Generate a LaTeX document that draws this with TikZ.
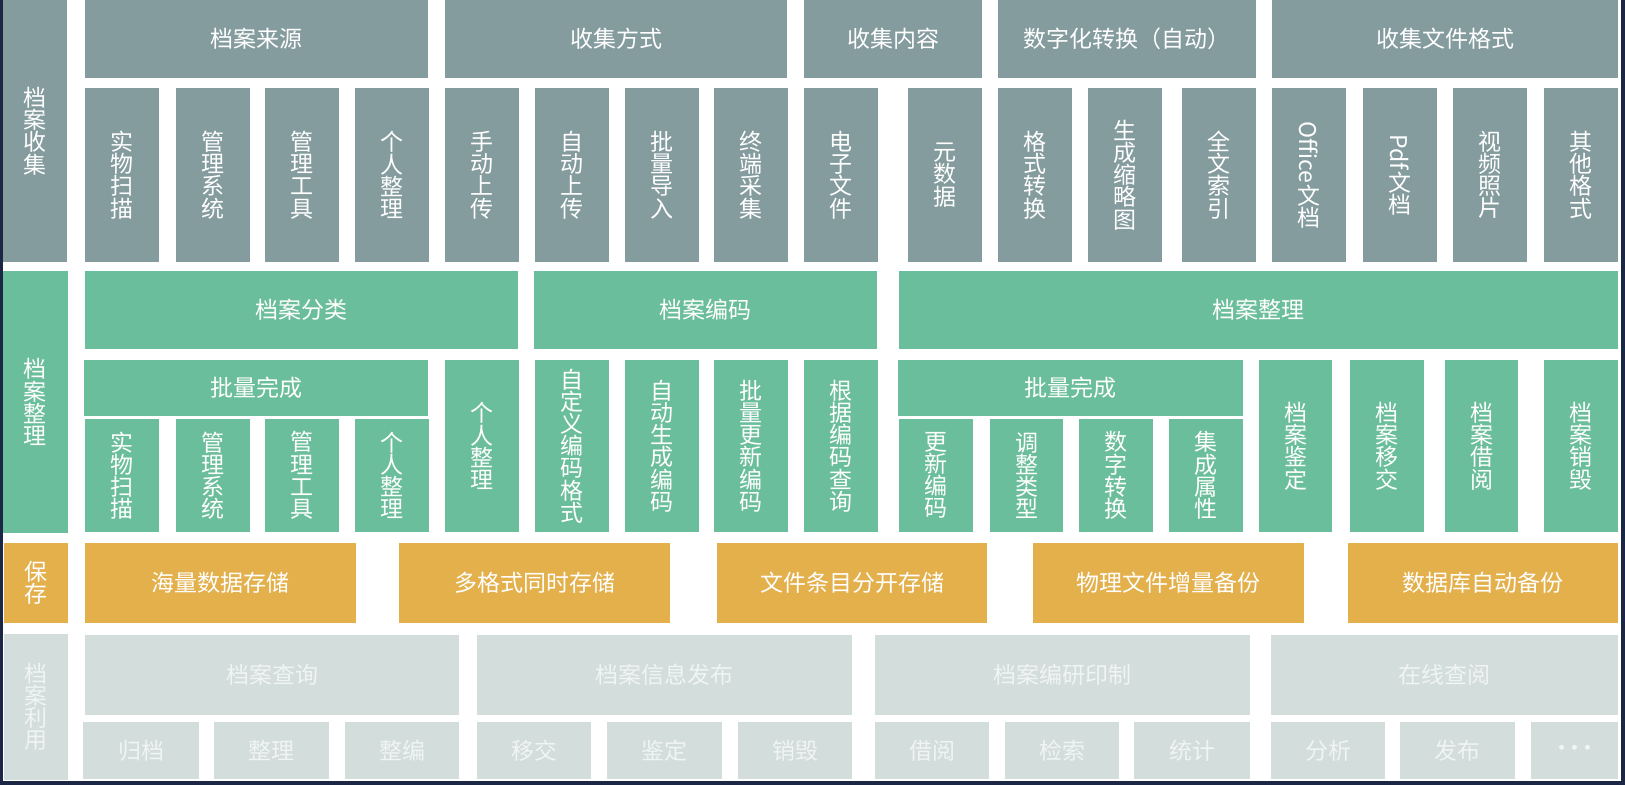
\documentclass[tikz,border=0pt]{standalone}
\usepackage{fontspec}
\setmainfont{Noto Sans CJK SC}
\usepackage{graphicx}
\usepackage{tikz}
\definecolor{cgray}{HTML}{859C9F}
\definecolor{cgreen}{HTML}{6BBE9B}
\definecolor{corange}{HTML}{E3B04C}
\definecolor{clight}{HTML}{D2DDDC}
\definecolor{ctext}{HTML}{F0F4F4}
\definecolor{cframe}{HTML}{1B2745}

\begin{document}
\begin{tikzpicture}[x=.5pt,y=-.5pt,
 box/.style={inner sep=0pt,outer sep=0pt,anchor=north west,align=center,text=white,font=\fontsize{11.5}{11.1}\selectfont},
 sz/.style 2 args={minimum width=#1*.5pt,minimum height=#2*.5pt},
 cbox/.style={box,fill=cgray},
 obox/.style={box,fill=cgreen},
 sbox/.style={box,fill=corange},
 ubox/.style={box,fill=clight,text=ctext}]
\useasboundingbox (0,0) rectangle (1625,785);
\fill[cframe] (0,0) rectangle (1625,785);
\fill[white] (3,0) rectangle (1621,781);

% 档案收集
\node[cbox,sz={64}{262}] (col) at (3,0) {档\\案\\收\\集};
\node[cbox,sz={343}{78}] (src) at (85,0) {档案来源};
\node[cbox,sz={342}{78}] (way) at (445,0) {收集方式};
\node[cbox,sz={178}{78}] (cnt) at (804,0) {收集内容};
\node[cbox,sz={258}{78}] (dig) at (998,0) {数字化转换（自动）};
\node[cbox,sz={346}{78}] (fmt) at (1272,0) {收集文件格式};
\node[cbox,sz={74}{174}] (src1) at (85,88) {实\\物\\扫\\描};
\node[cbox,sz={74}{174}] (src2) at (176,88) {管\\理\\系\\统};
\node[cbox,sz={74}{174}] (src3) at (265,88) {管\\理\\工\\具};
\node[cbox,sz={74}{174}] (src4) at (355,88) {个\\人\\整\\理};
\node[cbox,sz={74}{174}] (way1) at (445,88) {手\\动\\上\\传};
\node[cbox,sz={74}{174}] (way2) at (535,88) {自\\动\\上\\传};
\node[cbox,sz={74}{174}] (way3) at (625,88) {批\\量\\导\\入};
\node[cbox,sz={74}{174}] (way4) at (714,88) {终\\端\\采\\集};
\node[cbox,sz={74}{174}] (cnt1) at (804,88) {电\\子\\文\\件};
\node[cbox,sz={74}{174}] (cnt2) at (908,88) {元\\数\\据};
\node[cbox,sz={74}{174}] (dig1) at (998,88) {格\\式\\转\\换};
\node[cbox,sz={74}{174}] (dig2) at (1088,88) {生\\成\\缩\\略\\图};
\node[cbox,sz={74}{174}] (dig3) at (1182,88) {全\\文\\索\\引};
\node[cbox,sz={74}{174}] (fmt1) at (1272,88) {\rotatebox[origin=c]{-90}{Office}\\文\\档};
\node[cbox,sz={74}{174}] (fmt2) at (1363,88) {\rotatebox[origin=c]{-90}{Pdf}\\文\\档};
\node[cbox,sz={74}{174}] (fmt3) at (1453,88) {视\\频\\照\\片};
\node[cbox,sz={74}{174}] (fmt4) at (1544,88) {其\\他\\格\\式};

% 档案整理
\node[obox,sz={65}{262}] (org) at (3,271) {档\\案\\整\\理};
\node[obox,sz={433}{78}] (cls) at (85,271) {档案分类};
\node[obox,sz={343}{78}] (enc) at (534,271) {档案编码};
\node[obox,sz={719}{78}] (arr) at (899,271) {档案整理};
\node[obox,sz={344}{56}] (clsb) at (84,360) {批量完成};
\node[obox,sz={74}{113}] (cls1) at (85,419) {实\\物\\扫\\描};
\node[obox,sz={74}{113}] (cls2) at (176,419) {管\\理\\系\\统};
\node[obox,sz={74}{113}] (cls3) at (265,419) {管\\理\\工\\具};
\node[obox,sz={74}{113}] (cls4) at (355,419) {个\\人\\整\\理};
\node[obox,sz={74}{172}] (cls5) at (445,360) {个\\人\\整\\理};
\node[obox,sz={74}{172}] (enc1) at (535,360) {自\\定\\义\\编\\码\\格\\式};
\node[obox,sz={74}{172}] (enc2) at (625,360) {自\\动\\生\\成\\编\\码};
\node[obox,sz={74}{172}] (enc3) at (714,360) {批\\量\\更\\新\\编\\码};
\node[obox,sz={74}{172}] (enc4) at (804,360) {根\\据\\编\\码\\查\\询};
\node[obox,sz={345}{56}] (arrb) at (898,360) {批量完成};
\node[obox,sz={74}{113}] (arr1) at (899,419) {更\\新\\编\\码};
\node[obox,sz={73}{113}] (arr2) at (990,419) {调\\整\\类\\型};
\node[obox,sz={74}{113}] (arr3) at (1079,419) {数\\字\\转\\换};
\node[obox,sz={74}{113}] (arr4) at (1169,419) {集\\成\\属\\性};
\node[obox,sz={73}{172}] (arr5) at (1259,360) {档\\案\\鉴\\定};
\node[obox,sz={74}{172}] (arr6) at (1350,360) {档\\案\\移\\交};
\node[obox,sz={73}{172}] (arr7) at (1445,360) {档\\案\\借\\阅};
\node[obox,sz={74}{172}] (arr8) at (1544,360) {档\\案\\销\\毁};

% 保存
\node[sbox,sz={64}{80}] (sav) at (4,543) {保\\存};
\node[sbox,sz={271}{80}] (sav1) at (85,543) {海量数据存储};
\node[sbox,sz={271}{80}] (sav2) at (399,543) {多格式同时存储};
\node[sbox,sz={270}{80}] (sav3) at (717,543) {文件条目分开存储};
\node[sbox,sz={271}{80}] (sav4) at (1033,543) {物理文件增量备份};
\node[sbox,sz={270}{80}] (sav5) at (1348,543) {数据库自动备份};

% 档案利用
\node[ubox,sz={64}{146}] (use) at (4,634) {档\\案\\利\\用};
\node[ubox,sz={374}{80}] (qry) at (85,635) {档案查询};
\node[ubox,sz={375}{80}] (pub) at (477,635) {档案信息发布};
\node[ubox,sz={375}{80}] (edt) at (875,635) {档案编研印制};
\node[ubox,sz={347}{80}] (onl) at (1271,635) {在线查阅};
\node[ubox,sz={116}{57}] (qry1) at (83,722) {归档};
\node[ubox,sz={115}{57}] (qry2) at (214,722) {整理};
\node[ubox,sz={114}{57}] (qry3) at (345,722) {整编};
\node[ubox,sz={114}{57}] (pub1) at (477,722) {移交};
\node[ubox,sz={115}{57}] (pub2) at (607,722) {鉴定};
\node[ubox,sz={114}{57}] (pub3) at (738,722) {销毁};
\node[ubox,sz={114}{57}] (edt1) at (875,722) {借阅};
\node[ubox,sz={114}{57}] (edt2) at (1005,722) {检索};
\node[ubox,sz={116}{57}] (edt3) at (1134,722) {统计};
\node[ubox,sz={114}{57}] (onl1) at (1271,722) {分析};
\node[ubox,sz={115}{57}] (onl2) at (1400,722) {发布};
\node[ubox,sz={87}{57}] (onl3) at (1531,722) {\makebox[6.5pt]{·}\makebox[6.5pt]{·}\makebox[6.5pt]{·}};
\end{tikzpicture}
\end{document}
